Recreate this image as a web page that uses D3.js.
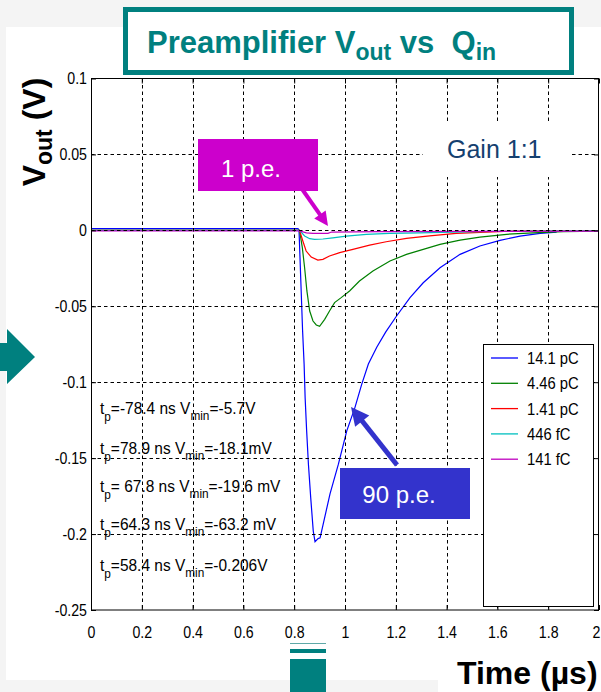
<!DOCTYPE html>
<html><head><meta charset="utf-8">
<script src="https://cdn.jsdelivr.net/npm/d3@7"></script>
<style>
body{margin:0;background:#f4f4f4;overflow:hidden}
svg{display:block}
</style>
</head><body>
<svg id="chart" width="601" height="692"></svg>
<script>
// ---------- data ----------
const seriesNames  = ["14.1 pC", "4.46 pC", "1.41 pC", "446 fC", "141 fC"];
const seriesColors = ["#0000ff", "#008000", "#ff0000", "#00bfbf", "#bf00bf"];
const xTickValues = [0, 0.2, 0.4, 0.6, 0.8, 1, 1.2, 1.4, 1.6, 1.8, 2];
const yTickValues = [0.1, 0.05, 0, -0.05, -0.1, -0.15, -0.2, -0.25];

// [time (µs), Vout (V)]
const blue14p1pC = [[0,0.0012],[0.815,0.0012],[0.819,0],[0.833,-0.066],[0.839,-0.088],[0.843,-0.110],[0.849,-0.132],[0.856,-0.154],[0.865,-0.176],[0.875,-0.198],[0.882,-0.205],[0.894,-0.203],[0.902,-0.2025],[0.941,-0.1735],[0.974,-0.154],[1.007,-0.132],[1.039,-0.1167],[1.066,-0.1013],[1.092,-0.088],[1.125,-0.077],[1.16,-0.067],[1.203,-0.0564],[1.256,-0.0443],[1.308,-0.0345],[1.374,-0.0246],[1.453,-0.0158],[1.531,-0.0103],[1.61,-0.0066],[1.689,-0.0038],[1.768,-0.002],[1.833,-0.0011]];
const green4p46pC = [[0,0],[0.821,0],[0.832,-0.0114],[0.841,-0.0246],[0.850,-0.0399],[0.861,-0.0531],[0.874,-0.0597],[0.887,-0.0623],[0.900,-0.0632],[0.920,-0.0586],[0.939,-0.0531],[0.959,-0.0476],[0.985,-0.0443],[1.018,-0.0399],[1.057,-0.0334],[1.110,-0.0268],[1.177,-0.0202],[1.242,-0.0158],[1.308,-0.0125],[1.374,-0.0092],[1.453,-0.0064],[1.531,-0.0044],[1.636,-0.0026],[1.741,-0.0016],[1.859,-0.0009],[2,-0.0005]];
const red1p41pC = [[0,0],[0.821,0],[0.834,-0.007],[0.847,-0.0136],[0.867,-0.0176],[0.893,-0.0196],[0.913,-0.0191],[0.939,-0.0169],[0.979,-0.0147],[1.031,-0.0125],[1.097,-0.0097],[1.162,-0.0075],[1.242,-0.0053],[1.333,-0.0036],[1.438,-0.002],[1.557,-0.0011],[1.662,-0.0005],[2,-0.0003]];
const cyan446fC = [[0,0],[0.821,0],[0.841,-0.0037],[0.861,-0.0055],[0.880,-0.0059],[0.913,-0.0057],[0.952,-0.0049],[1.005,-0.0038],[1.084,-0.0026],[1.175,-0.002],[1.293,-0.0016],[1.424,-0.0011],[1.582,-0.0007],[1.8,-0.0005],[2,-0.0004]];
const magenta141fC = [[0,-0.0004],[0.821,-0.0004],[0.848,-0.0016],[0.874,-0.002],[0.933,-0.002],[0.947,-0.0011],[1.136,-0.0009],[1.44,-0.0007],[2,-0.0005]];
const seriesData = [blue14p1pC, green4p46pC, red1p41pC, cyan446fC, magenta141fC];

// annotation lines
const tpLabels   = ["=-78.4 ns V", "=78.9 ns V", "= 67.8 ns V", "=64.3 ns V", "=58.4 ns V"];
const vminLabels = ["=-5.7V", "=-18.1mV", "=-19.6 mV", "=-63.2 mV", "=-0.206V"];
const annotY     = [-0.1212, -0.1475, -0.1725, -0.197, -0.224];

// ---------- layout ----------
const svg = d3.select("#chart");
const X0 = 91, X1 = 599, Y0 = 610, Y1 = 78.5;
const x = d3.scaleLinear().domain([0, 2]).range([X0, X1]);
const y = d3.scaleLinear().domain([-0.25, 0.1]).range([Y0, Y1]);
const teal = "#00807f";
const SANS = "Liberation Sans, Arial, sans-serif";

// horizontally condense texts around their anchor point (x attr moved into transform)
function condense(sel, f){
  sel.each(function(){
    const el = d3.select(this);
    const tx = +(el.attr("x") || 0), ty = +(el.attr("y") || 0);
    el.attr("x", 0).attr("y", 0).attr("transform", `translate(${tx},${ty}) scale(${f},1)`);
  });
}

// background panels
svg.append("rect").attr("x",0).attr("y",0).attr("width",601).attr("height",692).attr("fill","#f4f4f4");
svg.append("rect").attr("x",6).attr("y",27).attr("width",595).attr("height",653).attr("fill","#ffffff");
svg.append("rect").attr("x",438).attr("y",640).attr("width",163).attr("height",52).attr("fill","#ffffff");

// plot area
svg.append("rect").attr("x",X0).attr("y",Y1).attr("width",X1-X0).attr("height",Y0-Y1).attr("fill","#fff");

// curves
const line = d3.line().x(d => x(d[0])).y(d => y(d[1]));
seriesData.forEach((s, i) => {
  svg.append("path").datum(s).attr("d", line).attr("fill","none")
    .attr("stroke", seriesColors[i]).attr("stroke-width", 1.2);
});

// grid (dashed, drawn above the traces)
const grid = svg.append("g").attr("stroke","#000").attr("stroke-width",1).attr("stroke-dasharray","3.5,3");
xTickValues.slice(1, -1).forEach(t => grid.append("line")
  .attr("x1", Math.round(x(t))+0.5).attr("x2", Math.round(x(t))+0.5).attr("y1", Y1).attr("y2", Y0));
yTickValues.slice(1, -1).forEach(v => grid.append("line")
  .attr("y1", Math.round(y(v))+0.5).attr("y2", Math.round(y(v))+0.5).attr("x1", X0).attr("x2", X1));

// axes
const fmt = d => String(+d.toFixed(2));
const ax = svg.append("g");
const gx = ax.append("g").attr("transform",`translate(0,${Y0})`)
  .call(d3.axisBottom(x).tickValues(xTickValues).tickFormat(fmt).tickSizeInner(-5).tickSizeOuter(0).tickPadding(16));
ax.append("g").attr("transform",`translate(0,${Y1})`)
  .call(d3.axisTop(x).tickValues(xTickValues).tickFormat("").tickSizeInner(-5).tickSizeOuter(0));
ax.append("g").attr("transform",`translate(${X0},0)`)
  .call(d3.axisLeft(y).tickValues(yTickValues).tickFormat(fmt).tickSizeInner(-5).tickSizeOuter(0).tickPadding(4));
ax.append("g").attr("transform",`translate(${X1},0)`)
  .call(d3.axisRight(y).tickValues(yTickValues).tickFormat("").tickSizeInner(-5).tickSizeOuter(0));
ax.selectAll(".domain").remove();
ax.selectAll("text").attr("font-size",16.5).attr("fill","#000").attr("font-family",SANS);
ax.selectAll("line").attr("stroke","#000");
// keep the last x label ("2") inside the picture
gx.selectAll(".tick").filter(d => d === 2).select("text").attr("text-anchor","end").attr("x",1);
condense(ax.selectAll("text"), 0.86);
svg.append("rect").attr("x",X0+0.5).attr("y",Y1).attr("width",X1-X0-1).attr("height",Y0-Y1)
  .attr("fill","none").attr("stroke","#000").attr("stroke-width",1);

// annotation texts
const ann = svg.append("g").attr("font-family",SANS).attr("font-size",17).attr("fill","#000");
tpLabels.forEach((tp, i) => {
  const t = ann.append("text").attr("x", 100).attr("y", y(annotY[i]));
  t.append("tspan").text("t");
  t.append("tspan").attr("font-size",13).attr("dy",7).text("p");
  t.append("tspan").attr("dy",-7).text(tp);
  t.append("tspan").attr("font-size",13).attr("dy",6).text("min");
  t.append("tspan").attr("dy",-6).text(vminLabels[i]);
});
condense(ann.selectAll("text"), 0.91);

// Gain label
svg.append("rect").attr("x",423).attr("y",123).attr("width",147).attr("height",54).attr("fill","#fff");
svg.append("text").attr("x",447).attr("y",158).attr("font-family",SANS)
  .attr("font-size",25).attr("fill","#15406f").text("Gain 1:1");

// legend
const lg = svg.append("g");
lg.append("rect").attr("x",483.5).attr("y",344.5).attr("width",110).attr("height",262)
  .attr("fill","#fff").attr("stroke","#000");
seriesNames.forEach((n, i) => {
  const yy = 358 + i*25.3;
  lg.append("line").attr("x1",491).attr("x2",518).attr("y1",yy).attr("y2",yy)
    .attr("stroke",seriesColors[i]).attr("stroke-width",1.3);
  lg.append("text").attr("x",527).attr("y",yy+6)
    .attr("font-family",SANS).attr("font-size",17).text(n);
});
condense(lg.selectAll("text"), 0.87);

// arrows
function arrow(x1,y1,x2,y2,w,hl,hw,color){
  const dx=x2-x1, dy=y2-y1, L=Math.hypot(dx,dy), ux=dx/L, uy=dy/L, px=-uy, py=ux;
  const bx=x2-ux*hl, by=y2-uy*hl;
  svg.append("line").attr("x1",x1).attr("y1",y1).attr("x2",bx+ux).attr("y2",by+uy)
    .attr("stroke",color).attr("stroke-width",w);
  svg.append("polygon").attr("fill",color).attr("points",
    [[x2,y2],[bx+px*hw/2,by+py*hw/2],[bx-px*hw/2,by-py*hw/2]].map(p=>p.join(",")).join(" "));
}

// 1 p.e. box
svg.append("rect").attr("x",198).attr("y",139).attr("width",120).attr("height",52).attr("fill","#cc00cc");
svg.append("text").attr("x",251).attr("y",177).attr("text-anchor","middle")
  .attr("font-family",SANS).attr("font-size",24).attr("fill","#fff").text("1 p.e.");
arrow(302,189,328,226,4,14,14,"#cc00cc");

// 90 p.e. box
svg.append("rect").attr("x",340).attr("y",468).attr("width",130).attr("height",51).attr("fill","#3333cc");
svg.append("text").attr("x",399).attr("y",503).attr("text-anchor","middle")
  .attr("font-family",SANS).attr("font-size",24).attr("fill","#fff").text("90 p.e.");
arrow(397,465,351,407,5,18,18,"#3333cc");

// title box
svg.append("rect").attr("x",125.5).attr("y",9.5).attr("width",446).attr("height",63)
  .attr("fill","#fff").attr("stroke",teal).attr("stroke-width",5);
const tt = svg.append("text").attr("x",147).attr("y",53).attr("font-family",SANS)
  .attr("font-weight","bold").attr("font-size",31).attr("fill",teal);
tt.append("tspan").text("Preamplifier V");
tt.append("tspan").attr("font-size",23).attr("dy",7).text("out");
tt.append("tspan").attr("dy",-7).text(" vs \u00a0Q");
tt.append("tspan").attr("font-size",23).attr("dy",7).text("in");

// axis titles
const yt = svg.append("text").attr("transform","translate(45,132) rotate(-90)").attr("text-anchor","middle")
  .attr("font-family",SANS).attr("font-weight","bold").attr("font-size",32).attr("fill","#000");
yt.append("tspan").text("V");
yt.append("tspan").attr("font-size",23).attr("dy",7).text("out");
yt.append("tspan").attr("dy",-7).text(" (V)");

svg.append("text").attr("x",457).attr("y",684).attr("font-family",SANS)
  .attr("font-weight","bold").attr("font-size",32).attr("fill","#000").text("Time (\u00b5s)");

// teal decorations
svg.append("polygon").attr("fill",teal)
  .attr("points","0,343 7,343 7,329 35,357 7,384 7,371 0,371");
svg.append("rect").attr("x",290).attr("y",643).attr("width",36).attr("height",1).attr("fill","#5fa9a8");
svg.append("rect").attr("x",290).attr("y",649).attr("width",36).attr("height",4).attr("fill",teal);
svg.append("rect").attr("x",290).attr("y",659).attr("width",36).attr("height",33).attr("fill",teal);
</script>
</body></html>
